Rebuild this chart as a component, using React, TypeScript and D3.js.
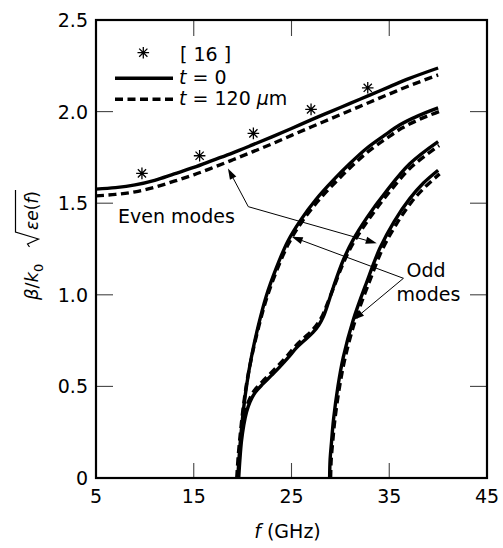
import React from 'react';
import * as d3 from 'd3';

// [f (GHz), beta/k0 sqrt(eps_e(f))]
const evenTop_t0 = [[5,1.577],[7,1.585],[9,1.6],[11,1.625],[13,1.66],[15,1.695],[17,1.735],[19,1.775],[21,1.818],[23,1.862],[25,1.908],[27,1.955],[29,2.0],[31,2.045],[33,2.09],[35,2.135],[37,2.18],[40,2.238]];
const evenTop_t120 = [[5,1.54],[7,1.548],[9,1.562],[11,1.587],[13,1.62],[15,1.655],[17,1.695],[19,1.737],[21,1.78],[23,1.824],[25,1.87],[27,1.916],[29,1.961],[31,2.006],[33,2.051],[35,2.096],[37,2.14],[40,2.2]];

const oddLeft_t0 = [[19.5,0],[19.65,0.12],[19.85,0.25],[20.1,0.38],[20.45,0.52],[20.9,0.66],[21.6,0.83],[22.4,0.99],[23.4,1.14],[24.6,1.29],[25.9,1.405],[27.5,1.52],[29.3,1.627],[31,1.718],[32.7,1.8],[34.5,1.87],[36.1,1.928],[38,1.978],[40,2.02]];
const oddLeft_t120 = [[19.4,0],[19.55,0.12],[19.78,0.25],[20.05,0.38],[20.42,0.52],[20.9,0.655],[21.62,0.82],[22.45,0.98],[23.47,1.13],[24.7,1.28],[26.02,1.395],[27.65,1.508],[29.47,1.613],[31.18,1.703],[32.9,1.784],[34.7,1.853],[36.3,1.91],[38.2,1.96],[40.1,2.0]];

const kinked_t0 = [[19.6,0],[19.72,0.1],[19.88,0.2],[20.12,0.29],[20.4,0.36],[20.75,0.415],[21.3,0.468],[22.1,0.515],[23,0.563],[23.8,0.607],[24.7,0.66],[25.5,0.71],[26.4,0.755],[27.2,0.795],[27.8,0.835],[28.25,0.88],[28.6,0.93],[29.3,1.044],[30.3,1.19],[31.3,1.3],[32.7,1.42],[34.7,1.565],[37.1,1.715],[40,1.836]];
const kinked_t120 = [[19.5,0],[19.62,0.1],[19.78,0.2],[20.02,0.295],[20.3,0.37],[20.66,0.425],[21.2,0.478],[22,0.525],[22.9,0.573],[23.7,0.617],[24.6,0.67],[25.4,0.72],[26.3,0.765],[27.1,0.805],[27.7,0.845],[28.2,0.89],[28.58,0.94],[29.32,1.04],[30.35,1.18],[31.4,1.29],[32.85,1.408],[34.85,1.55],[37.25,1.697],[40.1,1.815]];

const right_t0 = [[28.9,0],[28.95,0.1],[29.1,0.2],[29.3,0.32],[29.75,0.5],[30.3,0.66],[31.3,0.86],[32.7,1.07],[34.05,1.255],[35.5,1.4],[37.1,1.525],[38.5,1.61],[40,1.68]];
const right_t120 = [[29.0,0],[29.06,0.1],[29.22,0.2],[29.44,0.32],[29.92,0.5],[30.5,0.66],[31.52,0.86],[32.92,1.065],[34.27,1.245],[35.72,1.385],[37.3,1.508],[38.7,1.59],[40.15,1.66]];

const ref16 = [[9.7,1.663],[15.6,1.759],[21.1,1.881],[27.0,2.012],[32.8,2.13]];

const xTicks = [5, 15, 25, 35, 45];
const yTicks = [0, 0.5, 1.0, 1.5, 2.0, 2.5];
const yTickLabels = ['0', '0.5', '1.0', '1.5', '2.0', '2.5'];

// annotation arrows: [from vertex, to head]
const evenArrowFrom = [20.58, 1.481];
const evenArrowTo = [[18.5, 1.69], [33.72, 1.281]];
const oddArrowFrom = [36.45, 1.09];
const oddArrowTo = [[25.02, 1.317], [31.32, 0.862]];

const W = 503, H = 548;
const left = 96, right = 487, top = 20, bottom = 478;
const font = '"DejaVu Sans", sans-serif';

const Star = ({cx, cy, r = 5.8}) => {
  const d = [0, 45, 90, 135].map(a => {
    const t = a * Math.PI / 180;
    return `M${cx - r * Math.cos(t)},${cy - r * Math.sin(t)}L${cx + r * Math.cos(t)},${cy + r * Math.sin(t)}`;
  }).join('');
  return <path d={d} stroke="#000" strokeWidth={1.3} fill="none" />;
};

const Arrow = ({x1, y1, x2, y2}) => {
  const a = Math.atan2(y2 - y1, x2 - x1);
  const len = 11, wid = 3.6;
  const bx = x2 - len * Math.cos(a), by = y2 - len * Math.sin(a);
  const p = `${x2},${y2} ${bx + wid * Math.sin(a)},${by - wid * Math.cos(a)} ${bx - wid * Math.sin(a)},${by + wid * Math.cos(a)}`;
  return (
    <g>
      <line x1={x1} y1={y1} x2={bx} y2={by} stroke="#000" strokeWidth={1} />
      <polygon points={p} fill="#000" />
    </g>
  );
};

export default function App() {
  const x = d3.scaleLinear().domain([5, 45]).range([left, right]);
  const y = d3.scaleLinear().domain([0, 2.5]).range([bottom, top]);
  const line = d3.line().x(d => x(d[0])).y(d => y(d[1])).curve(d3.curveCatmullRom.alpha(0.5));

  const dashedSeries = [evenTop_t120, oddLeft_t120, kinked_t120, right_t120];
  const solidSeries = [evenTop_t0, oddLeft_t0, kinked_t0, right_t0];

  return (
    <svg width={W} height={H} style={{position: 'absolute', left: 0, top: 0, background: '#fff'}} fontFamily={font}>
      {/* curves */}
      {dashedSeries.map((s, i) => (
        <path key={'d' + i} d={line(s)} fill="none" stroke="#000" strokeWidth={3.4} strokeDasharray="8,4.5" />
      ))}
      {solidSeries.map((s, i) => (
        <path key={'s' + i} d={line(s)} fill="none" stroke="#000" strokeWidth={3.4} />
      ))}
      {ref16.map((d, i) => <Star key={i} cx={x(d[0])} cy={y(d[1])} />)}

      {/* inner ticks */}
      {xTicks.slice(1, -1).map(t => (
        <g key={'xt' + t}>
          <line x1={x(t)} x2={x(t)} y1={bottom} y2={bottom - 15} stroke="#444" strokeWidth={1.1} />
          <line x1={x(t)} x2={x(t)} y1={top} y2={top + 16} stroke="#444" strokeWidth={1.1} />
        </g>
      ))}
      {yTicks.slice(1, -1).map(t => (
        <g key={'yt' + t}>
          <line x1={left} x2={left + 17} y1={y(t)} y2={y(t)} stroke="#444" strokeWidth={1.1} />
          <line x1={right - 17} x2={right} y1={y(t)} y2={y(t)} stroke="#444" strokeWidth={1.1} />
        </g>
      ))}
      <rect x={left} y={top} width={right - left} height={bottom - top} fill="none" stroke="#000" strokeWidth={2.2} />

      {/* tick labels */}
      {xTicks.map(t => (
        <text key={'xl' + t} x={x(t)} y={503} textAnchor="middle" fontSize={19}>{t}</text>
      ))}
      {yTicks.map((t, i) => (
        <text key={'yl' + t} x={88} y={y(t) + 7} textAnchor="end" fontSize={19}>{yTickLabels[i]}</text>
      ))}

      {/* axis titles */}
      <text x={287.5} y={538} textAnchor="middle" fontSize={19}>
        <tspan fontStyle="italic">f</tspan> (GHz)
      </text>
      <g transform="translate(37.5,300) rotate(-90)">
        <text x={0} y={0} fontSize={18}>
          <tspan fontStyle="italic">β</tspan>/<tspan fontStyle="italic">k</tspan>
          <tspan dy={5} fontSize={13}>0</tspan>
        </text>
        <path d="M53,-8 L56,-10 L61,1 L68,-22 L110,-22" fill="none" stroke="#000" strokeWidth={1.2} />
        <text x={70} y={0} fontSize={17}>
          <tspan fontStyle="italic">εe</tspan>(<tspan fontStyle="italic">f</tspan>)
        </text>
      </g>

      {/* legend */}
      <Star cx={143.3} cy={52.7} />
      <text x={180} y={61} fontSize={19}>[ 16 ]</text>
      <line x1={115} x2={173} y1={78.3} y2={78.3} stroke="#000" strokeWidth={3.4} />
      <text x={179} y={84} fontSize={19}><tspan fontStyle="italic">t</tspan> = 0</text>
      <line x1={115} x2={173} y1={99.3} y2={99.3} stroke="#000" strokeWidth={3.4} strokeDasharray="8,4.5" />
      <text x={179} y={105} fontSize={19}><tspan fontStyle="italic">t</tspan> = 120 <tspan fontStyle="italic">μ</tspan>m</text>

      {/* annotations */}
      <text x={118} y={223} fontSize={19}>Even modes</text>
      {evenArrowTo.map((d, i) => (
        <Arrow key={'ea' + i} x1={x(evenArrowFrom[0])} y1={y(evenArrowFrom[1])} x2={x(d[0])} y2={y(d[1])} />
      ))}
      <text x={426} y={277} textAnchor="middle" fontSize={19}>Odd</text>
      <text x={428.5} y={301} textAnchor="middle" fontSize={19}>modes</text>
      {oddArrowTo.map((d, i) => (
        <Arrow key={'oa' + i} x1={x(oddArrowFrom[0])} y1={y(oddArrowFrom[1])} x2={x(d[0])} y2={y(d[1])} />
      ))}
    </svg>
  );
}
